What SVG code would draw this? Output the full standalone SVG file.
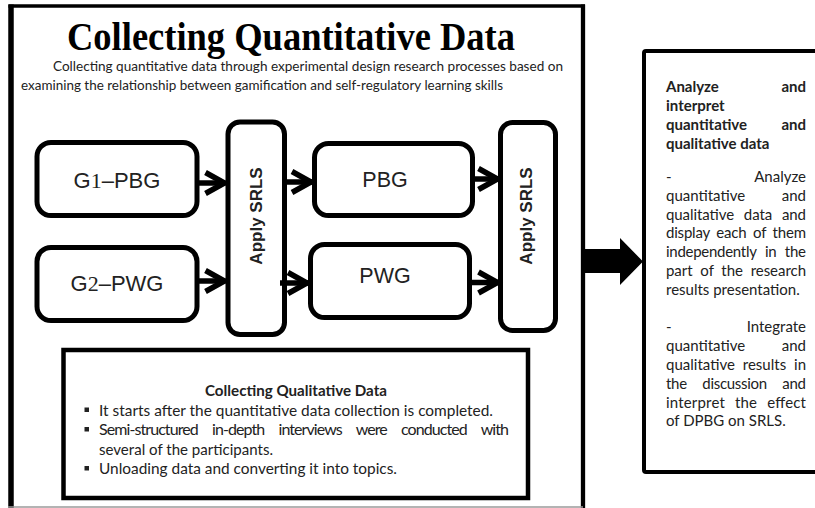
<svg xmlns="http://www.w3.org/2000/svg" width="815" height="508" viewBox="0 0 815 508">
  <style>
    .node { fill: #fff; stroke: #000; stroke-width: 5; }
    .label { font-family: "Liberation Sans", Arial, sans-serif; fill: #222; }
    .vlabel { font-family: "Liberation Sans", Arial, sans-serif; font-weight: bold; font-size: 17px; fill: #222; }
    .body { font-family: Lato, "Open Sans", sans-serif; fill: #222; }
    .conn { fill: none; stroke: #000; stroke-width: 5.5; }
  </style>
  <defs>
    <marker id="chev" markerUnits="userSpaceOnUse" viewBox="0 0 30 30" markerWidth="30" markerHeight="30" refX="24" refY="15" orient="auto" overflow="visible">
      <path d="M4,4.5 L23,15 L4,25.5" fill="none" stroke="#000" stroke-width="5.5"/>
    </marker>
  </defs>

  <rect width="815" height="508" fill="#fff"/>

  <!-- outer panel: quantitative collection -->
  <g id="panel-quantitative">
    <line x1="11" y1="4.5" x2="11" y2="508" stroke="#000" stroke-width="5.5"/>
    <line x1="8.5" y1="6" x2="585" y2="6" stroke="#000" stroke-width="3.5"/>
    <line x1="583" y1="4.5" x2="583" y2="508" stroke="#000" stroke-width="4.3"/>
    <line x1="8" y1="507" x2="583" y2="507" stroke="#9a9a9a" stroke-width="1.5"/>
    <text x="67" y="50" textLength="448" lengthAdjust="spacingAndGlyphs" font-family="'Liberation Serif', 'Times New Roman', serif" font-weight="bold" font-size="39" fill="#000">Collecting Quantitative Data</text>
    <text class="body" x="53" y="71" font-size="13.5" textLength="510" lengthAdjust="spacingAndGlyphs">Collecting quantitative data through experimental design research processes based on</text>
    <text class="body" x="21" y="90" font-size="13.5" textLength="482" lengthAdjust="spacingAndGlyphs">examining the relationship between gamification and self-regulatory learning skills</text>
  </g>

  <!-- group nodes -->
  <g id="g1-pbg">
    <rect class="node" x="37" y="142.5" width="160" height="73" rx="14"/>
    <text class="label" x="117" y="188" font-size="22" text-anchor="middle">G<tspan font-family="'Liberation Serif', serif">1</tspan>–PBG</text>
  </g>
  <g id="g2-pwg">
    <rect class="node" x="37" y="247.5" width="160" height="73" rx="14"/>
    <text class="label" x="117" y="291" font-size="22" text-anchor="middle">G<tspan font-family="'Liberation Serif', serif">2</tspan>–PWG</text>
  </g>
  <g id="apply-srls-1">
    <rect class="node" x="228" y="122" width="56.5" height="212.5" rx="12"/>
    <text class="vlabel" transform="translate(262,216) rotate(-90)" text-anchor="middle">Apply SRLS</text>
  </g>
  <g id="pbg">
    <rect class="node" x="314.5" y="143.5" width="158" height="72" rx="14"/>
    <text class="label" x="385" y="187" font-size="21.5" text-anchor="middle">PBG</text>
  </g>
  <g id="pwg">
    <rect class="node" x="310.5" y="244.5" width="159" height="73" rx="14"/>
    <text class="label" x="385" y="283" font-size="21.5" text-anchor="middle">PWG</text>
  </g>
  <g id="apply-srls-2">
    <rect class="node" x="500.5" y="122.5" width="55" height="208" rx="12"/>
    <text class="vlabel" transform="translate(532,216) rotate(-90)" text-anchor="middle">Apply SRLS</text>
  </g>

  <!-- connectors -->
  <g id="connectors">
    <path class="conn" d="M197,183 H225.5" marker-end="url(#chev)"/>
    <path class="conn" d="M197,281 H225.5" marker-end="url(#chev)"/>
    <path class="conn" d="M284.5,182 H312" marker-end="url(#chev)"/>
    <path class="conn" d="M280,283 H308" marker-end="url(#chev)"/>
    <path class="conn" d="M472.5,179 H498.5" marker-end="url(#chev)"/>
    <path class="conn" d="M469.5,282.5 H498.5" marker-end="url(#chev)"/>
    <polygon points="583,249 620,249 620,238 643,261.5 620,285 620,273 583,273" fill="#000"/>
  </g>

  <!-- qualitative collection -->
  <g id="qualitative">
    <rect x="63.5" y="350" width="464.5" height="148" fill="#fff" stroke="#000" stroke-width="4.5"/>
    <text class="body" x="296" y="396" font-size="16" font-weight="bold" text-anchor="middle" textLength="182" lengthAdjust="spacingAndGlyphs">Collecting Qualitative Data</text>
    <g fill="#222">
      <rect x="84.5" y="407.5" width="4.5" height="4.5"/>
      <rect x="84.5" y="427" width="4.5" height="4.5"/>
      <rect x="84.5" y="466" width="4.5" height="4.5"/>
    </g>
    <text class="body" x="99" y="415.5" font-size="16" textLength="394" lengthAdjust="spacingAndGlyphs">It starts after the quantitative data collection is completed.</text>
    <text class="body" x="99" y="435" font-size="16" word-spacing="11" textLength="410" lengthAdjust="spacing">Semi-structured in-depth interviews were conducted with</text>
    <text class="body" x="99" y="454.5" font-size="16" textLength="174" lengthAdjust="spacingAndGlyphs">several of the participants.</text>
    <text class="body" x="99" y="474" font-size="16" textLength="298" lengthAdjust="spacingAndGlyphs">Unloading data and converting it into topics.</text>
  </g>

  <!-- analysis panel -->
  <g id="analysis">
    <rect x="644" y="51" width="200" height="421" rx="2" fill="#fff" stroke="#000" stroke-width="4"/>
    <g class="body" font-size="15" font-weight="bold">
      <text y="92"><tspan x="666">Analyze</tspan><tspan x="806" text-anchor="end">and</tspan></text>
      <text x="666" y="111">interpret</text>
      <text y="130"><tspan x="666">quantitative</tspan><tspan x="806" text-anchor="end">and</tspan></text>
      <text x="666" y="149">qualitative data</text>
    </g>
    <g class="body" font-size="15">
      <text y="182"><tspan x="666">-</tspan><tspan x="806" text-anchor="end">Analyze</tspan></text>
      <text y="200.8"><tspan x="666">quantitative</tspan><tspan x="806" text-anchor="end">and</tspan></text>
      <text x="666" y="219.6" word-spacing="6" textLength="140" lengthAdjust="spacing">qualitative data and</text>
      <text x="666" y="238.4" word-spacing="3" textLength="140" lengthAdjust="spacing">display each of them</text>
      <text x="666" y="257.2" word-spacing="5" textLength="140" lengthAdjust="spacing">independently in the</text>
      <text x="666" y="276" word-spacing="4" textLength="140" lengthAdjust="spacing">part of the research</text>
      <text x="666" y="294.8">results presentation.</text>
      <text y="332.4"><tspan x="666">-</tspan><tspan x="806" text-anchor="end">Integrate</tspan></text>
      <text y="351.2"><tspan x="666">quantitative</tspan><tspan x="806" text-anchor="end">and</tspan></text>
      <text x="666" y="370" word-spacing="4" textLength="140" lengthAdjust="spacing">qualitative results in</text>
      <text x="666" y="388.8" word-spacing="12" textLength="140" lengthAdjust="spacing">the discussion and</text>
      <text x="666" y="407.6" word-spacing="6" textLength="140" lengthAdjust="spacing">interpret the effect</text>
      <text x="666" y="426.4">of DPBG on SRLS.</text>
    </g>
  </g>
</svg>
